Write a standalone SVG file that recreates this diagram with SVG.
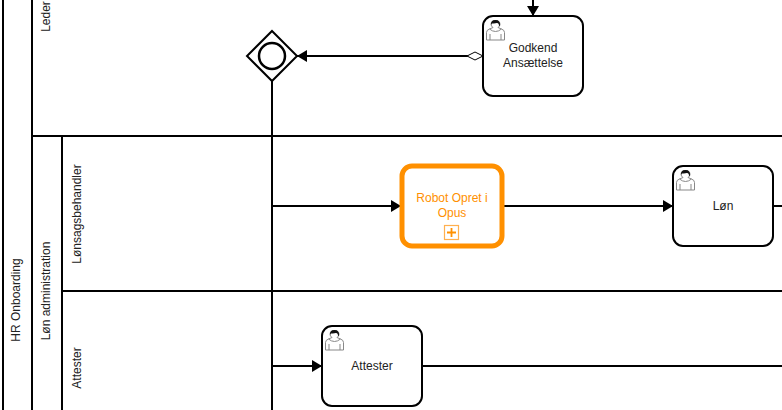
<svg xmlns="http://www.w3.org/2000/svg" width="782" height="410" viewBox="0 0 782 410">
<style>
.l{fill:none;stroke:#000;stroke-width:2}
.t{fill:#fff;stroke:#000;stroke-width:2}
text{font-family:"Liberation Sans",Arial,sans-serif;font-size:12px;fill:#222;text-anchor:middle}
text.o{fill:#ff9000}
</style>
<defs>
<marker id="a" markerUnits="userSpaceOnUse" markerWidth="12" markerHeight="12" refX="10" refY="6" orient="auto" overflow="visible"><path d="M0 0L10 6L0 12Z" fill="#000"/></marker>
<g id="u">
<path d="M0.500 20V12.500Q0.500 10 3.500 9L7 7.500Q5 6 5 4.500Q5 0.500 9.500 0.500Q14 0.500 14 4.500Q14 6 12 7.500L15.500 9Q18.500 10 18.500 12.500V20Z" fill="#fff" stroke="#888" stroke-width="1"/>
<path d="M4 14V20M15 14V20M3.500 9Q9.500 14 15.500 9" fill="none" stroke="#888" stroke-width="1"/>
<path d="M5 5Q4.500 0 9.500 0Q14.500 0 14 5.500L13 6Q13 3 11 3Q7 3.500 6 3.500Z" fill="#111"/>
</g>
</defs>
<rect width="782" height="410" fill="#fff"/>
<g id="lanes">
<path class="l" d="M3 0V410M32 0V410M62 136V410M32 136H782M62 291H782"/>
</g>
<g id="lane-labels">
<text transform="translate(20 300) rotate(-90)">HR Onboarding</text>
<text transform="translate(50 291) rotate(-90)">Løn administration</text>
<text transform="translate(50 16.500) rotate(-90)">Leder</text>
<text transform="translate(81 214) rotate(-90)">Lønsagsbehandler</text>
<text transform="translate(81 368) rotate(-90)">Attester</text>
</g>
<g id="connectors">
<path class="l" d="M533 0V16" marker-end="url(#a)"/>
<path class="l" d="M483 56H297" marker-end="url(#a)"/>
<path d="M467 56L475 52L483 56L475 60Z" fill="#fff" stroke="#000" stroke-width="1"/>
<path class="l" d="M272 80V410"/>
<path class="l" d="M272 206H401" marker-end="url(#a)"/>
<path class="l" d="M504 206H673" marker-end="url(#a)"/>
<path class="l" d="M774 206H782"/>
<path class="l" d="M272 366H322" marker-end="url(#a)"/>
<path class="l" d="M423 366H782"/>
</g>
<g id="gateway">
<path class="t" d="M272 31L297 56L272 81L247 56Z"/>
<circle cx="272" cy="56" r="13" fill="#fff" stroke="#000" stroke-width="2.500"/>
</g>
<g id="godkend">
<rect class="t" x="483" y="16" width="100" height="80" rx="10"/>
<use href="#u" x="486" y="20"/>
<text x="533" y="52">Godkend</text>
<text x="533" y="67">Ansættelse</text>
</g>
<g id="robot">
<rect x="402" y="166" width="100" height="80" rx="10" fill="#fff" stroke="#ff9000" stroke-width="5"/>
<text class="o" x="452" y="202">Robot Opret i</text>
<text class="o" x="452" y="217">Opus</text>
<rect x="444.500" y="225.500" width="14" height="14" fill="#fff" stroke="#ffb050" stroke-width="1.200"/>
<path d="M447 232.500H456M451.500 228V237" stroke="#ff9000" stroke-width="1.800" fill="none"/>
</g>
<g id="loen">
<rect class="t" x="673" y="166" width="100" height="80" rx="10"/>
<use href="#u" x="676" y="170"/>
<text x="723" y="210">Løn</text>
</g>
<g id="attester">
<rect class="t" x="322" y="326" width="100" height="80" rx="10"/>
<use href="#u" x="325" y="330"/>
<text x="372" y="370">Attester</text>
</g>
</svg>
